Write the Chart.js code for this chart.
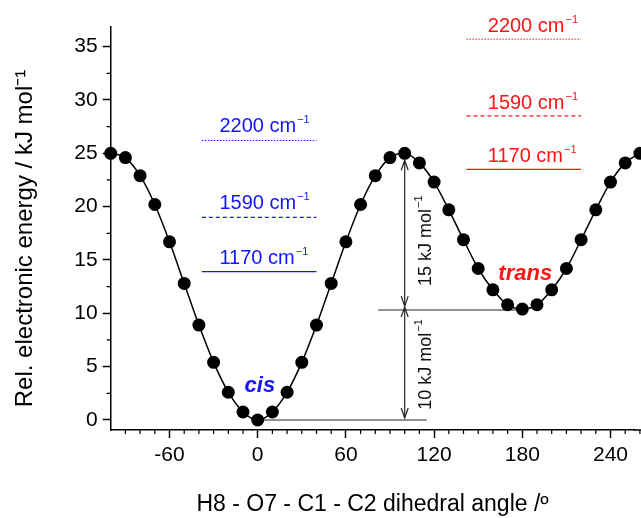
<!DOCTYPE html>
<html>
<head>
<meta charset="utf-8">
<script src="https://cdn.jsdelivr.net/npm/chart.js@4.4.1/dist/chart.umd.min.js"></script>
<style>
  html, body { margin: 0; padding: 0; background: #fff; }
  #wrap { width: 641px; height: 518px; }
</style>
</head>
<body>
<div id="wrap"><canvas id="chartPes" width="641" height="518"></canvas></div>
<script>
// dihedral angle (deg) and relative energy (kJ/mol)
const angles = [-100, -90, -80, -70, -60, -50, -40, -30, -20, -10, 0, 10, 20, 30, 40, 50, 60, 70, 80, 90,
                100, 110, 120, 130, 140, 150, 160, 170, 180, 190, 200, 210, 220, 230, 240, 250, 260];
const energies = [25.0, 24.6, 22.9, 20.2, 16.7, 12.8, 8.9, 5.4, 2.6, 0.75, 0.0, 0.75, 2.6, 5.4, 8.9, 12.8, 16.7, 20.2, 22.9, 24.6,
                  25.0, 24.1, 22.3, 19.7, 16.9, 14.2, 12.2, 10.8, 10.4, 10.8, 12.2, 14.2, 16.9, 19.7, 22.3, 24.1, 25.0];

const xTicks = [-60, 0, 60, 120, 180, 240];
const yTicks = [0, 5, 10, 15, 20, 25, 30, 35];

// zero-point energy levels drawn above each minimum
const freqLabels = ['1170', '1590', '2200'];
const cisLevels = [13.9, 19.0, 26.2];
const transLevels = [23.5, 28.5, 35.7];
const transMin = 10.3;
const barrier = 25.0;

const BLUE = 'rgb(20,20,255)';
const RED = 'rgb(255,20,20)';
const GREY = '#6e6e6e';
const dashes = [[], [4, 3], [1.5, 1.5]];
const PX_PER_DEG = 1.47; // the plot runs off the right edge of the picture

function levelSets(levels, x0, x1, color) {
    return levels.map((v, i) => ({
        data: [{x: x0, y: v}, {x: x1, y: v}],
        borderColor: color,
        borderWidth: i === 2 ? 1 : 1.3,
        borderDash: dashes[i],
        pointRadius: 0,
        tension: 0
    }));
}

const datasets = [
    {
        data: angles.map((a, i) => ({x: a, y: energies[i]})),
        borderColor: '#000',
        borderWidth: 1.5,
        backgroundColor: '#000',
        pointRadius: 6.5,
        pointBackgroundColor: '#000',
        pointBorderWidth: 0,
        cubicInterpolationMode: 'monotone',
        clip: false
    },
    {data: [{x: 0, y: 0}, {x: 115, y: 0}], borderColor: GREY, borderWidth: 1.5, pointRadius: 0},
    {data: [{x: 82, y: transMin}, {x: 180, y: transMin}], borderColor: GREY, borderWidth: 1.5, pointRadius: 0},
    ...levelSets(cisLevels, -38, 40, BLUE),
    ...levelSets(transLevels, 142, 220, RED)
];

function supText(ctx, x, y, main, color) {
    ctx.fillStyle = color;
    ctx.font = '20px "Liberation Sans", Arial, sans-serif';
    ctx.textAlign = 'left';
    ctx.textBaseline = 'alphabetic';
    ctx.fillText(main, x, y);
    const w = ctx.measureText(main).width;
    ctx.font = '11px "Liberation Sans", Arial, sans-serif';
    ctx.fillText('\u22121', x + w + 1, y - 9);
}

function arrowHead(ctx, x, y, dir) {
    ctx.beginPath();
    ctx.moveTo(x - 3.5, y - dir * 10);
    ctx.lineTo(x, y);
    ctx.lineTo(x + 3.5, y - dir * 10);
    ctx.stroke();
}

function vArrow(ctx, x, y1, y2) {
    ctx.beginPath();
    ctx.moveTo(x, y1);
    ctx.lineTo(x, y2);
    ctx.stroke();
    arrowHead(ctx, x, y1, -1);
    arrowHead(ctx, x, y2, 1);
}

function rotLabel(ctx, x, y, main) {
    ctx.save();
    ctx.translate(x, y);
    ctx.rotate(-Math.PI / 2);
    ctx.fillStyle = '#111';
    ctx.font = '18px "Liberation Sans", Arial, sans-serif';
    const w = ctx.measureText(main).width;
    ctx.font = '11px "Liberation Sans", Arial, sans-serif';
    const ws = ctx.measureText('\u22121').width;
    const start = -(w + ws + 1) / 2;
    ctx.textAlign = 'left';
    ctx.textBaseline = 'alphabetic';
    ctx.font = '18px "Liberation Sans", Arial, sans-serif';
    ctx.fillText(main, start, 6);
    ctx.font = '11px "Liberation Sans", Arial, sans-serif';
    ctx.fillText('\u22121', start + w + 1, -3);
    ctx.restore();
}

const annotations = {
    id: 'annotations',
    afterDatasetsDraw(chart) {
        const {ctx, scales: {x, y}, chartArea} = chart;
        ctx.save();

        // x axis keeps going past the chart area to the canvas edge
        ctx.strokeStyle = '#000';
        ctx.lineWidth = 1.5;
        ctx.beginPath();
        ctx.moveTo(chartArea.right - 1, chartArea.bottom);
        ctx.lineTo(chart.width, chartArea.bottom);
        ctx.stroke();

        // minor ticks
        ctx.lineWidth = 1.2;
        ctx.beginPath();
        for (let a = -90; a <= 260; a += 10) {
            if (a % 60 === 0) continue;
            const px = x.getPixelForValue(a);
            ctx.moveTo(px, chartArea.bottom);
            ctx.lineTo(px, chartArea.bottom + 4);
        }
        for (let v = 2.5; v < 37; v += 5) {
            const py = y.getPixelForValue(v);
            ctx.moveTo(chartArea.left, py);
            ctx.lineTo(chartArea.left - 4, py);
        }
        ctx.stroke();

        // frequency labels
        freqLabels.forEach((f, i) => {
            supText(ctx, x.getPixelForValue(-26), y.getPixelForValue(cisLevels[i]) - 8, f + ' cm', BLUE);
            supText(ctx, x.getPixelForValue(156.5), y.getPixelForValue(transLevels[i]) - 7, f + ' cm', RED);
        });

        // conformer names
        ctx.font = 'italic bold 22px "Liberation Sans", Arial, sans-serif';
        ctx.textAlign = 'center';
        ctx.textBaseline = 'alphabetic';
        ctx.fillStyle = BLUE;
        ctx.fillText('cis', x.getPixelForValue(1.5), y.getPixelForValue(2.6));
        ctx.fillStyle = RED;
        ctx.fillText('trans', x.getPixelForValue(182), y.getPixelForValue(13.1));

        // energy gap arrows
        const ax = x.getPixelForValue(100);
        ctx.strokeStyle = '#222';
        ctx.lineWidth = 1.2;
        vArrow(ctx, ax, y.getPixelForValue(barrier) + 7, y.getPixelForValue(transMin) - 4);
        vArrow(ctx, ax, y.getPixelForValue(transMin) - 3, y.getPixelForValue(0) - 2);
        rotLabel(ctx, x.getPixelForValue(114), y.getPixelForValue(16.8), '15 kJ mol');
        rotLabel(ctx, x.getPixelForValue(114), y.getPixelForValue(5.2), '10 kJ mol');

        ctx.restore();
    }
};

const ctxPes = document.getElementById('chartPes').getContext('2d');
const chart = new Chart(ctxPes, {
    type: 'line',
    data: {datasets},
    options: {
        responsive: false,
        animation: false,
        layout: {padding: {top: 27, left: 0, right: 0, bottom: 0}},
        plugins: {legend: {display: false}, tooltip: {enabled: false}},
        scales: {
            x: {
                type: 'linear',
                min: -100,
                max: 261,
                afterBuildTicks: s => { s.ticks = xTicks.map(v => ({value: v})); },
                afterFit: s => { s.height = 88; },
                ticks: {color: '#000', font: {family: '"Liberation Sans", Arial', size: 21}, padding: 5, maxRotation: 0},
                grid: {drawOnChartArea: false, tickLength: 8, tickColor: '#000', tickWidth: 1.5},
                border: {color: '#000', width: 1.5},
                title: {
                    display: true,
                    text: 'H8 - O7 - C1 - C2 dihedral angle /\u00ba',
                    color: '#000',
                    font: {family: '"Liberation Sans", Arial', size: 23},
                    padding: {top: 0, bottom: 0}
                }
            },
            y: {
                min: -0.94,
                max: 36.84,
                afterBuildTicks: s => { s.ticks = yTicks.map(v => ({value: v})); },
                afterFit: s => { s.width = 110.7; },
                ticks: {color: '#000', font: {family: '"Liberation Sans", Arial', size: 21}, padding: 5},
                grid: {drawOnChartArea: false, tickLength: 8, tickColor: '#000', tickWidth: 1.5},
                border: {color: '#000', width: 1.5},
                title: {
                    display: true,
                    text: 'Rel. electronic energy / kJ mol\u207b\u00b9   ',
                    color: '#000',
                    font: {family: '"Liberation Sans", Arial', size: 24},
                    padding: {top: 11, bottom: 0}
                }
            }
        }
    },
    plugins: [annotations]
});

// point overflow padding shrinks the area; rescale so the axis keeps the reference spacing
const area = chart.chartArea;
chart.options.scales.x.max = -100 + (area.right - area.left) / PX_PER_DEG;
chart.update();
</script>
</body>
</html>
